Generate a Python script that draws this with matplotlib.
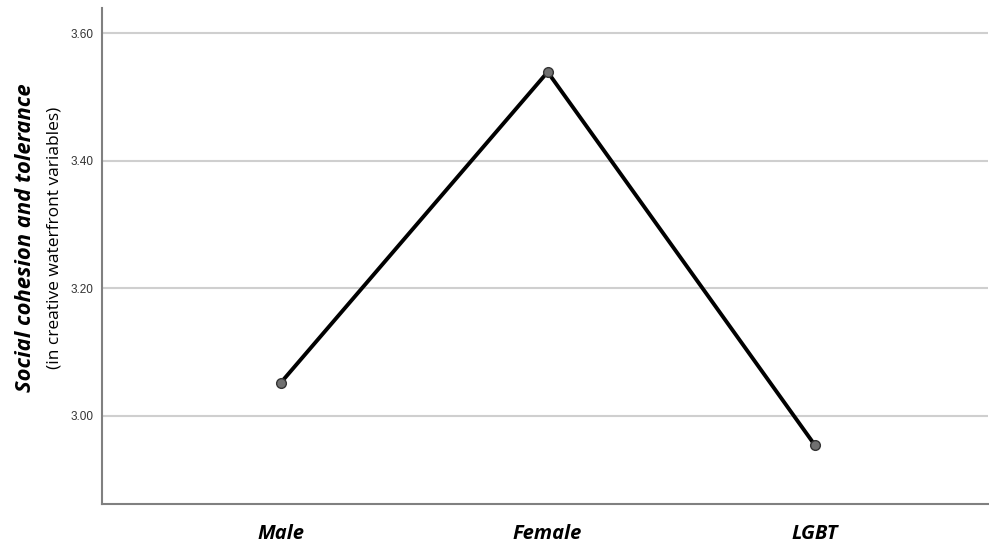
import matplotlib
matplotlib.use("Agg")
import matplotlib.pyplot as plt

categories = ["Male", "Female", "LGBT"]
values = [3.052, 3.539, 2.955]
yticks = [3.00, 3.20, 3.40, 3.60]
ytick_labels = ["3.00", "3.20", "3.40", "3.60"]

fig = plt.figure(figsize=(9.89, 5.44), dpi=100)
ax = fig.add_axes([0.1031, 0.0735, 0.8959, 0.9115])

x = list(range(len(categories)))
ax.plot(x, values, color="black", lw=2.8, zorder=3,
        marker="o", markersize=7, markerfacecolor="#707070",
        markeredgecolor="#333333", markeredgewidth=1.0)

ax.set_xlim(-0.67, 2.65)
ax.set_ylim(2.862, 3.639)
ax.set_yticks(yticks)
ax.set_yticklabels(ytick_labels, fontfamily="Liberation Sans", fontsize=8.5, color="#333333")
ax.set_xticks(x)
ax.set_xticklabels(categories, fontfamily="Open Sans", fontweight="bold",
                   fontstyle="italic", fontsize=14.5, color="black")
ax.tick_params(axis="y", length=0, pad=6)
ax.tick_params(axis="x", length=0, pad=14.5)
ax.grid(axis="y", color="#cfcfcf", lw=1.5)
ax.set_axisbelow(True)
for s in ["top", "right"]:
    ax.spines[s].set_visible(False)
for s in ["left", "bottom"]:
    ax.spines[s].set_color("#808080")
    ax.spines[s].set_linewidth(1.5)

fig.text(26 / 989, 1 - 238 / 544, "Social cohesion and tolerance", rotation=90,
         ha="center", va="center", fontfamily="Open Sans", fontweight="bold",
         fontstyle="italic", fontsize=15.8)
fig.text(55 / 989, 1 - 238 / 544, "(in creative waterfront variables)", rotation=90,
         ha="center", va="center", fontfamily="Open Sans", fontsize=12.5)

fig.savefig("out.png", dpi=100)
